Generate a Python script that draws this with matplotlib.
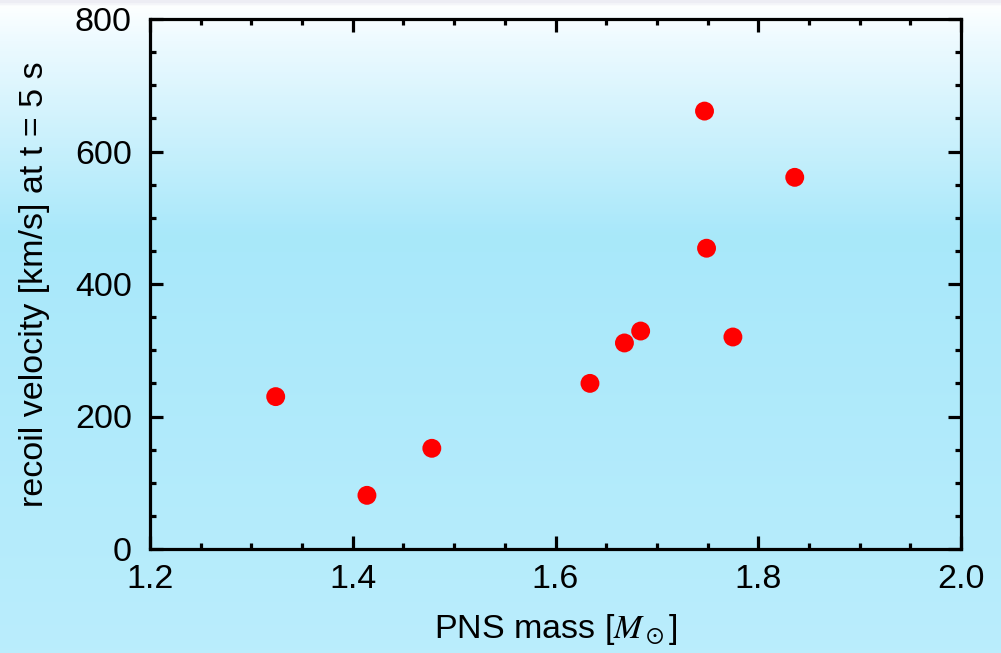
import numpy as np
import matplotlib
matplotlib.use("Agg")
import matplotlib.pyplot as plt
from matplotlib.colors import LinearSegmentedColormap

pns_mass = [1.324, 1.414, 1.478, 1.634, 1.668, 1.684, 1.747, 1.749, 1.775, 1.836]
recoil_velocity = [230, 81, 152, 250, 311, 329, 661, 454, 320, 561]

x_ticks = [1.2, 1.4, 1.6, 1.8, 2.0]
x_ticklabels = ["1.2", "1.4", "1.6", "1.8", "2.0"]
y_ticks = [0, 200, 400, 600, 800]
y_ticklabels = ["0", "200", "400", "600", "800"]

plt.rcParams['font.family'] = ['Liberation Sans', 'DejaVu Sans']
plt.rcParams['mathtext.fontset'] = 'stix'

fig = plt.figure(figsize=(10.01, 6.53), dpi=100)

# background gradient
bg = fig.add_axes([0, 0, 1, 1], zorder=-10)
bg.axis('off')
stops = [(0.0, (0.93, 0.93, 0.96)), (0.008, (0.99, 1.0, 1.0)), (0.06, (0.93, 0.98, 1.0)),
         (0.36, (0.66, 0.91, 0.98)), (1.0, (0.73, 0.93, 0.99))]
cmap = LinearSegmentedColormap.from_list('bg', stops)
grad = np.linspace(0, 1, 600).reshape(-1, 1)
bg.imshow(grad, aspect='auto', cmap=cmap, extent=[0, 1, 0, 1], origin='upper')
bg.set_xlim(0, 1); bg.set_ylim(0, 1)

ax = fig.add_axes([150/1001, 1-549/653, (961-150)/1001, (549-19)/653])
ax.patch.set_alpha(0)
ax.scatter(pns_mass, recoil_velocity, s=185, color='#ff0000', edgecolors='none', zorder=3)

ax.set_xlim(1.2, 2.0)
ax.set_ylim(0, 800)
ax.set_xticks(x_ticks)
ax.set_xticklabels(x_ticklabels)
ax.set_yticks(y_ticks)
ax.set_yticklabels(y_ticklabels)
ax.set_xticks(np.arange(1.25, 2.0, 0.05), minor=True)
ax.set_yticks(np.arange(50, 800, 50), minor=True)

ax.tick_params(which='both', direction='in', top=True, right=True, width=2.3, labelsize=24.5, colors='black')
ax.tick_params(axis='x', which='major', length=9.5, pad=11)
ax.tick_params(axis='y', which='major', length=9.5, pad=13)
ax.tick_params(which='minor', length=4.5)
for s in ax.spines.values():
    s.set_linewidth(2.3)

ax.set_xlabel(r"PNS mass [$M_\odot$]", fontsize=24.5, labelpad=12)
ax.set_ylabel("recoil velocity [km/s] at t = 5 s", fontsize=24.5, labelpad=18)

fig.savefig("out.png", dpi=100)
